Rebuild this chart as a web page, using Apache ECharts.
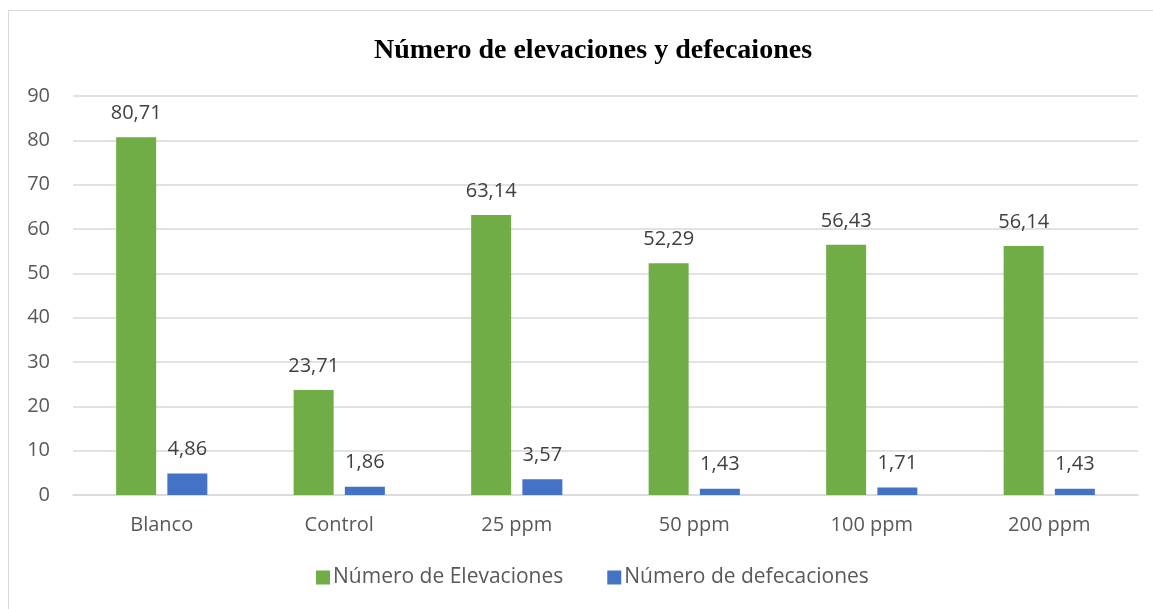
<!DOCTYPE html>
<html>
<head>
<meta charset="utf-8">
<script src="https://cdn.jsdelivr.net/npm/echarts@6/dist/echarts.min.js"></script>
<style>
  html, body { margin: 0; padding: 0; background: #fff; }
  #frame { position: absolute; left: 8px; top: 10px; width: 1160px; height: 620px; border: 1px solid #d9d9d9; box-sizing: border-box; }
  #chart { position: absolute; left: 0; top: 0; width: 1153px; height: 609px; }
</style>
</head>
<body>
<div id="frame"></div>
<div id="chart"></div>
<script>
const categories = ['Blanco', 'Control', '25 ppm', '50 ppm', '100 ppm', '200 ppm']
const elevaciones = [80.71, 23.71, 63.14, 52.29, 56.43, 56.14]
const defecaciones = [4.86, 1.86, 3.57, 1.43, 1.71, 1.43]
const yTicks = [0, 10, 20, 30, 40, 50, 60, 70, 80, 90]

const labelFont = '"Open Sans", Lato, sans-serif'
const fmt = v => v.toFixed(2).replace('.', ',')

const chart = echarts.init(document.getElementById('chart'), null, { renderer: 'canvas' })

const barLabel = {
  show: true,
  position: 'top',
  distance: 14,
  color: '#404040',
  fontSize: 20,
  fontFamily: labelFont,
  formatter: p => fmt(p.value)
}

chart.setOption({
  animation: false,
  title: {
    text: 'Número de elevaciones y defecaiones',
    left: 588,
    top: 32,
    textAlign: 'center',
    textStyle: {
      fontFamily: '"Liberation Serif", "DejaVu Serif", serif',
      fontWeight: 'bold',
      fontSize: 28,
      color: '#000'
    }
  },
  legend: {
    bottom: 16,
    left: 311,
    itemWidth: 14,
    itemHeight: 14,
    itemGap: 44,
    icon: 'rect',
    textStyle: { fontSize: 21, color: '#595959', fontFamily: labelFont, padding: [0, 0, 0, -2] },
    data: ['Número de Elevaciones', 'Número de defecaciones']
  },
  grid: { left: 73, right: 15, top: 96, bottom: 114 },
  xAxis: {
    type: 'category',
    data: categories,
    axisLine: { lineStyle: { color: '#d9d9d9', width: 1.5 } },
    axisTick: { show: false },
    axisLabel: { color: '#595959', fontSize: 20, fontFamily: labelFont, margin: 20 }
  },
  yAxis: {
    type: 'value',
    min: yTicks[0],
    max: yTicks[yTicks.length - 1],
    interval: 10,
    axisLine: { show: false },
    axisTick: { show: false },
    axisLabel: { color: '#595959', fontSize: 20, fontFamily: labelFont, margin: 23 },
    splitLine: { lineStyle: { color: '#d9d9d9', width: 1.5 } }
  },
  series: [
    {
      name: 'Número de Elevaciones',
      type: 'bar',
      data: elevaciones,
      barWidth: 40,
      barGap: '28%',
      itemStyle: { color: '#70ad47' },
      label: barLabel
    },
    {
      name: 'Número de defecaciones',
      type: 'bar',
      data: defecaciones,
      barWidth: 40,
      itemStyle: { color: '#4472c4' },
      label: barLabel
    }
  ]
})

window.addEventListener('resize', () => chart.resize())
</script>
</body>
</html>
